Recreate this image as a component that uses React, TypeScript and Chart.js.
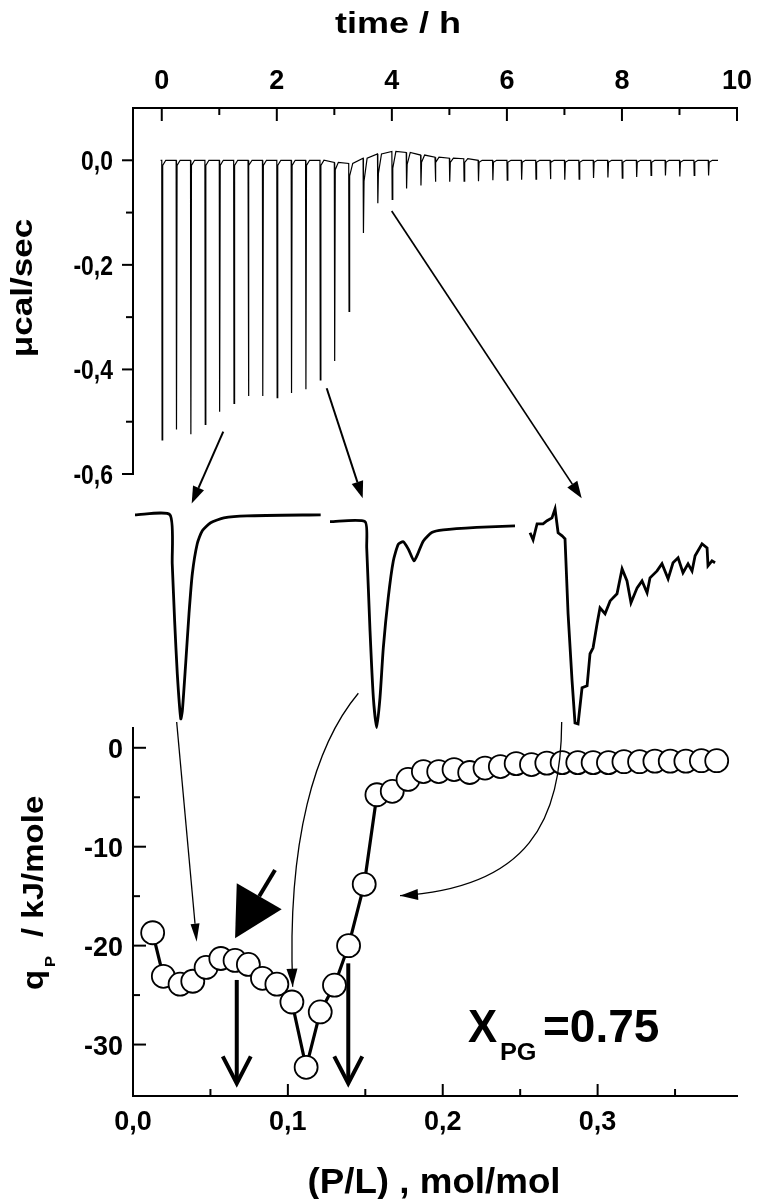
import React, { useEffect, useRef } from "react";
import { Chart, registerables } from "chart.js";
Chart.register(...registerables);

// ---------- top panel: raw ITC trace (time / h vs µcal/sec) ----------
const INJ_TIME = [0, 0.25, 0.5, 0.75, 1, 1.25, 1.5, 1.75, 2, 2.25, 2.5, 2.75, 3, 3.25, 3.5, 3.75, 4, 4.25, 4.5, 4.75, 5, 5.25, 5.5, 5.75, 6, 6.25, 6.5, 6.75, 7, 7.25, 7.5, 7.75, 8, 8.25, 8.5, 8.75, 9, 9.25, 9.5];
const INJ_PEAK = [-0.535, -0.515, -0.524, -0.505, -0.481, -0.465, -0.451, -0.451, -0.454, -0.445, -0.438, -0.42, -0.384, -0.289, -0.139, -0.082, -0.075, -0.054, -0.048, -0.041, -0.041, -0.04, -0.04, -0.038, -0.038, -0.037, -0.036, -0.036, -0.037, -0.036, -0.034, -0.033, -0.034, -0.032, -0.029, -0.029, -0.031, -0.029, -0.029];
const INJ_BASE = [0, 0, 0, 0, 0, 0, 0, 0, 0, 0, 0, 0, -0.004, -0.006, 0.004, 0.012, 0.017, 0.015, 0.01, 0.006, 0.004, 0.003, 0, 0, 0, 0, 0, 0, 0, 0, 0, 0, 0, 0, 0, 0, 0, 0, 0];
const INJ_TAIL = [-0.01, -0.01, -0.01, -0.01, -0.01, -0.01, -0.01, -0.01, -0.01, -0.01, -0.01, -0.01, -0.018, -0.03, -0.04, -0.025, -0.015, -0.008, -0.004, -0.004, -0.004, -0.004, -0.004, -0.004, -0.004, -0.004, -0.004, -0.004, -0.004, -0.004, -0.004, -0.004, -0.004, -0.004, -0.004, -0.004, -0.004, -0.004, -0.004];
const TRACE_START = -0.02;
const TRACE_END = 9.67;

const TIME_TICKS = [0, 2, 4, 6, 8, 10];
const TIME_MINOR = [1, 3, 5, 7, 9];
const POW_TICKS = [0, -0.2, -0.4, -0.6];
const POW_MINOR = [-0.1, -0.3, -0.5];

// ---------- middle: three enlarged single-injection peaks (min, normalised heat flow) ----------
const INSET1_T = [0, 2.63, 2.8, 2.98, 3.18, 3.44, 3.56, 3.81, 4.06, 4.31, 4.68, 5.06, 5.69, 6.68, 8.42, 13.96];
const INSET1_V = [0, 0, -0.24, -0.52, -0.78, -1.0, -0.961, -0.73, -0.485, -0.289, -0.142, -0.078, -0.039, -0.015, -0.005, 0];
const INSET2_T = [0, 2.63, 2.76, 3.01, 3.26, 3.51, 3.76, 4.01, 4.38, 4.76, 5.14, 5.51, 5.89, 6.32, 6.64, 7.02, 7.65, 8.52, 11.03, 13.91];
const INSET2_V = [-0.033, -0.033, -0.16, -0.569, -0.896, -1.043, -0.896, -0.651, -0.406, -0.226, -0.144, -0.132, -0.168, -0.226, -0.185, -0.128, -0.087, -0.074, -0.062, -0.054];
const INSET3_T = [0, 0.23, 0.53, 0.98, 1.28, 1.65, 1.88, 2.11, 2.41, 2.63, 2.86, 3.16, 3.38, 3.61, 3.91, 4.29, 4.51, 4.74, 5.04, 5.26, 5.64, 6.02, 6.54, 6.92, 7.29, 7.59, 8.05, 8.42, 8.8, 9.02, 9.55, 9.92, 10.38, 10.75, 11.13, 11.5, 11.88, 12.18, 12.41, 12.93, 13.31, 13.38, 13.68, 13.91];
const INSET3_V = [-0.088, -0.123, -0.044, -0.044, -0.029, -0.015, 0.029, -0.088, -0.103, -0.118, -0.485, -0.814, -1.02, -1.025, -0.848, -0.838, -0.681, -0.652, -0.534, -0.456, -0.485, -0.422, -0.387, -0.265, -0.324, -0.431, -0.358, -0.324, -0.382, -0.309, -0.275, -0.24, -0.314, -0.235, -0.211, -0.284, -0.24, -0.275, -0.201, -0.142, -0.162, -0.25, -0.226, -0.235];

// ---------- bottom panel: integrated heats q_P vs (P/L) ----------
const PL = [0.0127, 0.0196, 0.0304, 0.0386, 0.0472, 0.0567, 0.0659, 0.0745, 0.0836, 0.0929, 0.1026, 0.1118, 0.1209, 0.1301, 0.1392, 0.1493, 0.1575, 0.1674, 0.1776, 0.1875, 0.1974, 0.2073, 0.2174, 0.2273, 0.2372, 0.2474, 0.2573, 0.2672, 0.2771, 0.2872, 0.2971, 0.307, 0.317, 0.3271, 0.337, 0.3469, 0.357, 0.367, 0.3769];
const QP = [-18.7, -23.1, -23.9, -23.6, -22.2, -21.3, -21.5, -21.9, -23.3, -23.9, -25.7, -32.3, -26.7, -24.0, -20.0, -13.8, -4.75, -4.4, -3.2, -2.4, -2.4, -2.2, -2.5, -2.05, -1.9, -1.6, -1.7, -1.55, -1.5, -1.5, -1.5, -1.5, -1.4, -1.4, -1.35, -1.35, -1.35, -1.3, -1.3];

const QP_TICKS = [0, -10, -20, -30];
const QP_MINOR = [-5, -15, -25];
const PL_TICKS = [0, 0.1, 0.2, 0.3];
const PL_MINOR = [0.05, 0.15, 0.25, 0.35];

// marked transitions (P/L)
const TRANSITION_PL = [0.067, 0.139];
const TRANSITION_FROM = [-23.47, -21.79];
const TRANSITION_TO = -33.92;

const FONT = '"Liberation Sans", Arial, Helvetica, sans-serif';

function buildTrace() {
  const pts: { x: number; y: number }[] = [{ x: TRACE_START, y: INJ_BASE[0] }];
  for (let i = 0; i < INJ_TIME.length; i++) {
    const t = INJ_TIME[i];
    const b = INJ_BASE[i];
    pts.push({ x: t, y: b });
    pts.push({ x: t + 0.006, y: INJ_PEAK[i] });
    pts.push({ x: t + 0.016, y: INJ_TAIL[i] });
    pts.push({ x: t + 0.07, y: b });
  }
  pts.push({ x: TRACE_END, y: INJ_BASE[INJ_BASE.length - 1] });
  return pts;
}

const zip = (xs: number[], ys: number[]) => xs.map((x, i) => ({ x, y: ys[i] }));

function txt(ctx: CanvasRenderingContext2D, s: string, x: number, y: number, size: number, align: CanvasTextAlign = "left", sx = 1, rot = 0) {
  ctx.save();
  ctx.translate(x, y);
  if (rot) ctx.rotate(rot);
  ctx.scale(sx, 1);
  ctx.font = `bold ${size}px ${FONT}`;
  ctx.textAlign = align;
  ctx.textBaseline = "alphabetic";
  ctx.fillText(s, 0, 0);
  ctx.restore();
}

function head(ctx: CanvasRenderingContext2D, tx: number, ty: number, fx: number, fy: number, len: number, half: number) {
  const a = Math.atan2(ty - fy, tx - fx);
  const bx = tx - len * Math.cos(a);
  const by = ty - len * Math.sin(a);
  const nx = -Math.sin(a) * half;
  const ny = Math.cos(a) * half;
  ctx.beginPath();
  ctx.moveTo(tx, ty);
  ctx.lineTo(bx + nx, by + ny);
  ctx.lineTo(bx - nx, by - ny);
  ctx.closePath();
  ctx.fill();
  return [bx, by];
}

function arrow(ctx: CanvasRenderingContext2D, x1: number, y1: number, x2: number, y2: number, w: number, len: number, half: number) {
  const [bx, by] = head(ctx, x2, y2, x1, y1, len, half);
  ctx.lineWidth = w;
  ctx.beginPath();
  ctx.moveTo(x1, y1);
  ctx.lineTo(bx, by);
  ctx.stroke();
}

const decor = {
  id: "decor",
  afterDraw(chart: any) {
    const ctx: CanvasRenderingContext2D = chart.ctx;
    const S = chart.scales;
    const { left, top, bottom } = chart.chartArea;
    const P = (xs: string, xv: number, ys: string, yv: number) => [S[xs].getPixelForValue(xv), S[ys].getPixelForValue(yv)];
    ctx.save();
    ctx.strokeStyle = "#000";
    ctx.fillStyle = "#000";
    ctx.lineCap = "butt";
    const line = (x1: number, y1: number, x2: number, y2: number, w = 2) => {
      ctx.lineWidth = w;
      ctx.beginPath();
      ctx.moveTo(x1, y1);
      ctx.lineTo(x2, y2);
      ctx.stroke();
    };

    // ---- tick marks ----
    TIME_TICKS.forEach((v) => { const x = S.xTime.getPixelForValue(v); line(x, top, x, top + 13); });
    TIME_MINOR.forEach((v) => { const x = S.xTime.getPixelForValue(v); line(x, top, x, top + 7); });
    POW_TICKS.forEach((v) => { const y = S.yTop.getPixelForValue(v); line(left - 11, y, left, y); });
    POW_MINOR.forEach((v) => { const y = S.yTop.getPixelForValue(v); line(left - 7, y, left, y); });
    QP_TICKS.forEach((v) => { const y = S.yBot.getPixelForValue(v); line(left, y, left + 13, y); });
    QP_MINOR.forEach((v) => { const y = S.yBot.getPixelForValue(v); line(left, y, left + 7, y); });
    PL_TICKS.forEach((v) => { const x = S.xPL.getPixelForValue(v); line(x, bottom - 12, x, bottom); });
    PL_MINOR.forEach((v) => { const x = S.xPL.getPixelForValue(v); line(x, bottom - 7, x, bottom); });

    // ---- tick labels ----
    TIME_TICKS.forEach((v) => txt(ctx, String(v), S.xTime.getPixelForValue(v), top - 19, 27, "center"));
    POW_TICKS.forEach((v) => txt(ctx, v.toFixed(1).replace(".", ","), left - 20, S.yTop.getPixelForValue(v) + 10, 27, "right", 0.85));
    QP_TICKS.forEach((v) => txt(ctx, String(v), left - 10, S.yBot.getPixelForValue(v) + 10, 27, "right"));
    PL_TICKS.forEach((v) => txt(ctx, v.toFixed(1).replace(".", ","), S.xPL.getPixelForValue(v), bottom + 34, 27, "center"));

    // ---- axis titles ----
    txt(ctx, "time / h", 398, 33, 30, "center", 1.2);
    txt(ctx, "\u03bccal/sec", 32, 288, 30, "center", 1.17, -Math.PI / 2);
    txt(ctx, "(P/L) , mol/mol", 434, 1193, 35, "center", 1.05);
    ctx.save();
    ctx.translate(43, 990);
    ctx.rotate(-Math.PI / 2);
    ctx.scale(1.1, 1);
    ctx.textBaseline = "alphabetic";
    ctx.font = `bold 30px ${FONT}`;
    ctx.fillText("q", 0, 0);
    ctx.font = `bold 15px ${FONT}`;
    ctx.fillText("P", 23 / 1.1, 12);
    ctx.font = `bold 30px ${FONT}`;
    ctx.fillText("/ kJ/mole", 53 / 1.1, 0);
    ctx.restore();

    // ---- X_PG = 0.75 ----
    txt(ctx, "X", 468, 1042, 46, "left", 0.95);
    txt(ctx, "PG", 500, 1060, 23, "left", 1.1);
    txt(ctx, "=0.75", 543, 1042, 46, "left", 1.0);

    // ---- arrows from the raw trace to the enlarged peaks ----
    let a = P("xTime", 1.069, "yTop", -0.519), b = P("xTime", 0.52, "yMid", 0.056);
    arrow(ctx, a[0], a[1], b[0], b[1], 2, 17, 6);
    a = P("xTime", 2.867, "yTop", -0.436); b = P("xTime", 3.493, "yMid", 0.081);
    arrow(ctx, a[0], a[1], b[0], b[1], 2, 17, 6);
    a = P("xTime", 3.997, "yTop", -0.097); b = P("xTime", 7.3, "yMid", 0.081);
    arrow(ctx, a[0], a[1], b[0], b[1], 1.7, 17, 6);

    // ---- arrows from the peaks to their integrated heats ----
    a = P("xPL", 0.0282, "yBot", 2.607); b = P("xPL", 0.0411, "yBot", -19.6);
    arrow(ctx, a[0], a[1], b[0], b[1], 1.3, 18, 4.5);

    const curve = (p0: number[], c1: number[], c2: number[], p3: number[]) => {
      const A = P("xPL", p0[0], "yBot", p0[1]);
      const B = P("xPL", c1[0], "yBot", c1[1]);
      const C = P("xPL", c2[0], "yBot", c2[1]);
      const D = P("xPL", p3[0], "yBot", p3[1]);
      ctx.lineWidth = 1.3;
      ctx.beginPath();
      ctx.moveTo(A[0], A[1]);
      ctx.bezierCurveTo(B[0], B[1], C[0], C[1], D[0], D[1]);
      ctx.stroke();
      head(ctx, D[0], D[1], C[0], C[1], 18, 5.5);
    };
    curve([0.1455, 5.51], [0.1175, 0.28], [0.0994, -9.32], [0.1031, -24.15]);
    curve([0.2768, 2.61], [0.2764, -7.3], [0.2563, -14.17], [0.1724, -14.95]);

    // ---- big filled arrow ----
    const tip = P("xPL", 0.0659, "yBot", -19.26);
    const b1 = P("xPL", 0.067, "yBot", -13.7);
    const b2 = P("xPL", 0.096, "yBot", -16.33);
    const sh = P("xPL", 0.0917, "yBot", -12.36);
    line(sh[0], sh[1], (b1[0] + b2[0]) / 2, (b1[1] + b2[1]) / 2, 4);
    ctx.beginPath();
    ctx.moveTo(tip[0], tip[1]);
    ctx.lineTo(b1[0], b1[1]);
    ctx.lineTo(b2[0], b2[1]);
    ctx.closePath();
    ctx.fill();

    // ---- vertical transition arrows ----
    ctx.lineJoin = "miter";
    TRANSITION_PL.forEach((v, i) => {
      const s = P("xPL", v, "yBot", TRANSITION_FROM[i]);
      const e = P("xPL", v, "yBot", TRANSITION_TO);
      line(s[0], s[1], e[0], e[1] - 2, 4);
      ctx.lineWidth = 4;
      ctx.beginPath();
      ctx.moveTo(e[0] - 14, e[1] - 27);
      ctx.lineTo(e[0], e[1]);
      ctx.lineTo(e[0] + 14, e[1] - 27);
      ctx.stroke();
    });
    ctx.restore();
  },
};

const axisBase = {
  type: "linear" as const,
  ticks: { display: false },
  grid: { drawOnChartArea: false, drawTicks: false },
  border: { display: true, color: "#000", width: 2 },
};

export default function App() {
  const ref = useRef<HTMLCanvasElement>(null);
  useEffect(() => {
    const chart = new Chart(ref.current as HTMLCanvasElement, {
      type: "scatter",
      data: {
        datasets: [
          { data: buildTrace(), xAxisID: "xTime", yAxisID: "yTop", showLine: true, borderColor: "#000", borderWidth: 1.2, pointRadius: 0, tension: 0 },
          { data: zip(INSET1_T, INSET1_V), xAxisID: "xIn1", yAxisID: "yMid", showLine: true, borderColor: "#000", borderWidth: 2.8, pointRadius: 0, tension: 0.2, clip: false },
          { data: zip(INSET2_T, INSET2_V), xAxisID: "xIn2", yAxisID: "yMid", showLine: true, borderColor: "#000", borderWidth: 2.8, pointRadius: 0, tension: 0.2, clip: false },
          { data: zip(INSET3_T, INSET3_V), xAxisID: "xIn3", yAxisID: "yMid", showLine: true, borderColor: "#000", borderWidth: 2.8, pointRadius: 0, tension: 0, clip: false },
          { data: zip(PL, QP), xAxisID: "xPL", yAxisID: "yBot", showLine: true, borderColor: "#000", borderWidth: 3.2, pointRadius: 11.5, pointBorderWidth: 1.8, pointBackgroundColor: "#fff", pointBorderColor: "#000", tension: 0, clip: false },
        ] as any,
      },
      options: {
        animation: false,
        responsive: false,
        maintainAspectRatio: false,
        events: [],
        layout: { padding: { left: 0, right: 20, top: 0, bottom: 0 } },
        plugins: { legend: { display: false }, tooltip: { enabled: false }, title: { display: false } },
        scales: {
          xTime: { ...axisBase, position: "top", min: -0.5, max: 10, afterFit: (s: any) => { s.height = 108; } },
          xPL: { ...axisBase, position: "bottom", min: 0, max: 0.39, afterFit: (s: any) => { s.height = 103; } },
          xIn1: { type: "linear", position: "bottom", display: false, min: -0.15, max: 45.26 },
          xIn2: { type: "linear", position: "bottom", display: false, min: -14.81, max: 30.6 },
          xIn3: { type: "linear", position: "bottom", display: false, min: -29.85, max: 15.56 },
          yTop: { ...axisBase, position: "left", stack: "v", stackWeight: 366, weight: 3, min: -0.6, max: 0.1, afterFit: (s: any) => { s.width = 133; } },
          yMid: { type: "linear", position: "left", stack: "v", stackWeight: 254, weight: 2, display: false, min: -1.045, max: 0.2 },
          yBot: { ...axisBase, position: "left", stack: "v", stackWeight: 368, weight: 1, min: -35.2, max: 2, afterFit: (s: any) => { s.width = 133; } },
        } as any,
      },
      plugins: [decor],
    });
    return () => chart.destroy();
  }, []);
  return (
    <div style={{ position: "absolute", left: 0, top: 0, width: 757, height: 1199, background: "#fff" }}>
      <canvas ref={ref} width={757} height={1199} style={{ display: "block", width: 757, height: 1199 }} />
    </div>
  );
}
